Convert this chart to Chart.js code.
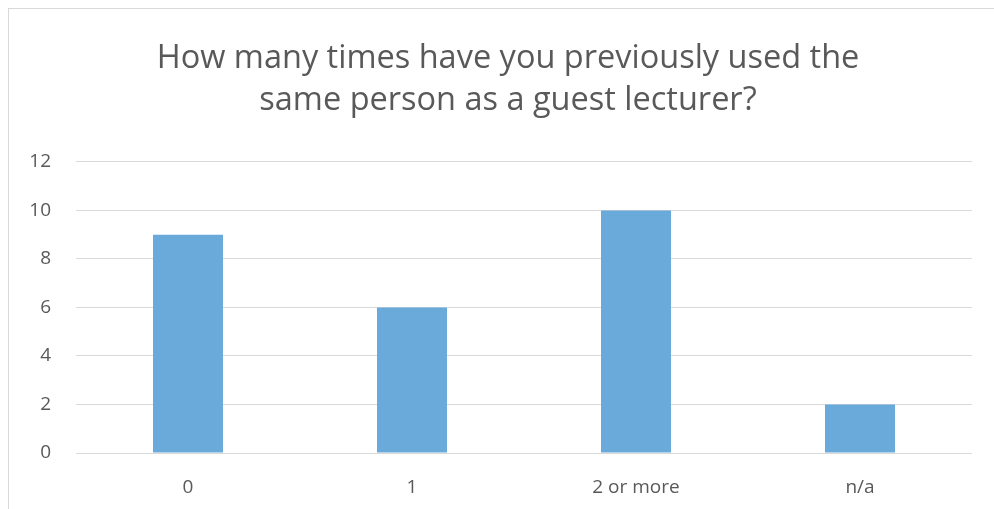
<!DOCTYPE html>
<html>
<head>
<meta charset="utf-8">
<script src="https://cdn.jsdelivr.net/npm/chart.js@4"></script>
<style>
html,body{margin:0;padding:0;background:#fff;}
#wrap{position:absolute;left:0;top:0;width:994px;height:509px;}
#frame{position:absolute;left:8px;top:8px;width:1000px;height:520px;border:1px solid #d9d9d9;box-sizing:border-box;}
canvas{position:absolute;left:0;top:0;}
</style>
</head>
<body>
<div id="wrap">
<div id="frame"></div>
<canvas id="c" width="994" height="509"></canvas>
</div>
<script>
const titleLines = ["How many times have you previously used the", "same person as a guest lecturer?"];
const categories = ["0", "1", "2 or more", "n/a"];
const counts = [9, 6, 10, 2];
const yTicks = [0, 2, 4, 6, 8, 10, 12];

const textColor = "#595959";
const fontFamily = "'Open Sans', 'Liberation Sans', sans-serif";

new Chart(document.getElementById("c"), {
  type: "bar",
  data: {
    labels: categories,
    datasets: [{
      data: counts,
      backgroundColor: "#6aaadb",
      borderWidth: 0,
      barPercentage: 0.3125,
      categoryPercentage: 1
    }]
  },
  options: {
    responsive: false,
    animation: false,
    layout: { padding: { left: 22, right: 0, top: 0, bottom: 11 } },
    plugins: {
      legend: { display: false },
      tooltip: { enabled: false },
      title: {
        display: true,
        text: titleLines,
        color: textColor,
        font: { family: fontFamily, size: 32.5, weight: "normal", lineHeight: 1.292 },
        padding: { top: 38, bottom: 40 }
      }
    },
    scales: {
      x: {
        grid: { display: false, drawTicks: false },
        border: { display: false },
        afterFit: (s) => { s.height = 45; },
        ticks: { color: textColor, font: { family: fontFamily, size: 19 }, padding: 23 }
      },
      y: {
        min: yTicks[0],
        max: yTicks[yTicks.length - 1],
        afterBuildTicks: (s) => { s.ticks = yTicks.map(v => ({ value: v })); },
        afterFit: (s) => { s.width = 54; },
        grid: { color: "#d9d9d9", lineWidth: 1, drawTicks: false },
        border: { display: false },
        ticks: { color: textColor, font: { family: fontFamily, size: 19 }, padding: 25 }
      },
      yRight: {
        position: "right",
        display: true,
        min: yTicks[0],
        max: yTicks[yTicks.length - 1],
        grid: { display: false, drawTicks: false },
        border: { display: false },
        ticks: { display: false },
        afterFit: (s) => { s.width = 22; }
      }
    }
  }
});
</script>
</body>
</html>
